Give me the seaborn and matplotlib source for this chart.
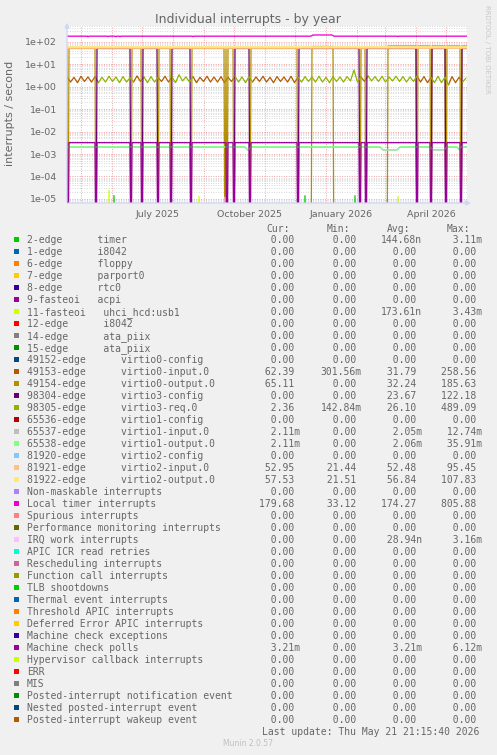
import numpy as np
import pandas as pd
import matplotlib
matplotlib.use("Agg")
import matplotlib.pyplot as plt
from matplotlib.patches import Rectangle
from matplotlib.ticker import FixedLocator, LogLocator, FuncFormatter, NullFormatter
import seaborn as sns

sns.set_style("white")
plt.rcParams['font.family'] = ['DejaVu Sans']

W, H = 497, 755
BACK = "#F0F0F0"
FONT = "#666666"
AXIS = "#CFD6F8"

# ---- time range (munin "by year" = 400 days up to last update)
t_end = pd.Timestamp("2026-05-21 21:15")
t0 = t_end - pd.Timedelta(days=400)

# ---- legend / table data
labels = [
    "2-edge      timer", "1-edge      i8042", "6-edge      floppy", "7-edge      parport0",
    "8-edge      rtc0", "9-fasteoi   acpi", "11-fasteoi   uhci_hcd:usb1", "12-edge      i8042",
    "14-edge      ata_piix", "15-edge      ata_piix",
    "49152-edge      virtio0-config", "49153-edge      virtio0-input.0",
    "49154-edge      virtio0-output.0", "98304-edge      virtio3-config",
    "98305-edge      virtio3-req.0", "65536-edge      virtio1-config",
    "65537-edge      virtio1-input.0", "65538-edge      virtio1-output.0",
    "81920-edge      virtio2-config", "81921-edge      virtio2-input.0",
    "81922-edge      virtio2-output.0",
    "Non-maskable interrupts", "Local timer interrupts", "Spurious interrupts",
    "Performance monitoring interrupts", "IRQ work interrupts", "APIC ICR read retries",
    "Rescheduling interrupts", "Function call interrupts", "TLB shootdowns",
    "Thermal event interrupts", "Threshold APIC interrupts", "Deferred Error APIC interrupts",
    "Machine check exceptions", "Machine check polls", "Hypervisor callback interrupts",
    "ERR", "MIS", "Posted-interrupt notification event", "Nested posted-interrupt event",
    "Posted-interrupt wakeup event",
]
keys = ["timer", "i8042a", "floppy", "parport0", "rtc0", "acpi", "usb1", "i8042b",
        "ata1", "ata2", "v0cfg", "v0in", "v0out", "v3cfg", "v3req", "v1cfg", "v1in",
        "v1out", "v2cfg", "v2in", "v2out", "NMI", "LOC", "SPU", "PMI", "IWI", "RTR",
        "RES", "CAL", "TLB", "TRM", "THR", "DFR", "MCE", "MCP", "HYP", "ERR", "MIS",
        "PIN", "NPI", "PIW"]
colors = ["#00CC00", "#0066B3", "#FF8000", "#FFCC00", "#330099", "#990099", "#CCFF00",
          "#FF0000", "#808080", "#008F00", "#00487D", "#B35A00", "#B38F00", "#6B006B",
          "#8FB300", "#B30000", "#BEBEBE", "#80FF80", "#80C9FF", "#FFC080", "#FFE680",
          "#AA80FF", "#EE00CC", "#FF8080", "#666600", "#FFBFFF", "#00FFCC", "#CC6699",
          "#999900", "#00CC00", "#0066B3", "#FF8000", "#FFCC00", "#330099", "#990099",
          "#CCFF00", "#FF0000", "#808080", "#008F00", "#00487D", "#B35A00"]
z = "0.00"
cur = [z]*11 + ["62.39", "65.11", z, "2.36", z, "2.11m", "2.11m", z, "52.95", "57.53",
                z, "179.68", z, z, z, z, z, z, z, z, z, z, z, "3.21m", z, z, z, z, z, z]
mins = [z]*11 + ["301.56m", z, z, "142.84m", z, z, z, z, "21.44", "21.51",
                 z, "33.12", z, z, z, z, z, z, z, z, z, z, z, z, z, z, z, z, z, z]
avgs = ["144.68n", z, z, z, z, z, "173.61n", z, z, z, z, "31.79", "32.24", "23.67",
        "26.10", z, "2.05m", "2.06m", z, "52.48", "56.84", z, "174.27", z, z, "28.94n",
        z, z, z, z, z, z, z, z, "3.21m", z, z, z, z, z, z]
maxs = ["3.11m", z, z, z, z, z, "3.43m", z, z, z, z, "258.56", "185.63", "122.18",
        "489.09", z, "12.74m", "35.91m", z, "95.45", "107.83", z, "805.88", z, z, "3.16m",
        z, z, z, z, z, z, z, z, "6.12m", z, z, z, z, z, z]

# ---- plotted data (days after start of the graph)
reboot_days = [1, 29, 64, 75, 91, 104, 124, 160, 167, 183, 231, 293, 299,
               350, 364, 379, 394]
# which virtio disk pair is active before the first reboot and after each one
active = ["v0", "v0", "v3", "v0", "v3", "v0", "v3", "v0", "v0", "v3", "v0",
          "v3", "v0", "v3", "v0", "v3", "v0", "v3"]
out_level = 50.0
out0_high = [(245, 266, 61.0), (321, 400, 64.0)]
out0_dips = [158]
mcp_level = 3.21e-3

# request-rate sawtooth, one value every half week
wave = [2.8, 1.6, 2.6, 1.5, 2.9, 1.7, 2.7, 1.6, 2.8, 1.5, 2.6, 1.6, 2.9, 1.7, 2.7, 1.5,
        2.8, 1.6, 2.5, 1.6, 3.0, 1.7, 2.7, 1.5, 2.8, 1.6, 2.6, 1.7, 2.9, 1.6, 2.7, 1.5,
        3.4, 1.8, 2.7, 1.6, 2.8, 1.5, 2.6, 1.7, 2.9, 1.6, 2.7, 1.6, 2.8, 1.5, 2.6, 1.7,
        2.9, 1.6, 2.7, 1.5, 2.8, 1.6, 2.7, 1.7, 2.9, 1.6, 2.6, 1.5, 2.8, 1.7, 2.7, 1.6,
        2.9, 1.5, 2.6, 1.6, 2.8, 1.7, 2.7, 1.6, 2.9, 1.6, 2.6, 1.5, 2.8, 1.7, 2.7, 1.6,
        2.8, 1.8, 5.5, 1.6, 2.7, 1.7, 3.0, 1.8, 2.8, 1.7, 2.9, 1.6, 2.7, 1.8, 2.9, 1.7,
        2.8, 1.6, 2.7, 1.7, 3.0, 1.6, 2.8, 1.5, 2.6, 1.5, 2.9, 1.5, 2.7, 1.2, 2.8, 1.5,
        2.6, 1.6, 2.4]

loc_days = [0, 20, 21, 22, 40, 41, 42, 48, 49, 50, 52, 53, 54, 125, 126, 127, 244, 246,
            265, 267, 330, 331, 332, 400]
loc_vals = [176, 176, 166, 176, 176, 168, 176, 176, 167, 176, 176, 168, 176, 176, 168,
            176, 176, 200, 200, 176, 176, 170, 176, 176]

v2in_days, v2in_vals = [0, 400], [52.0, 52.0]
v2out_days, v2out_vals = [0, 400], [56.0, 56.0]

v1_days = [0, 178, 181, 184, 313, 316, 330, 333, 363, 366, 377, 380, 390, 392, 394, 400]
v1_vals = [2.1e-3, 2.1e-3, 1.5e-3, 2.1e-3, 2.1e-3, 1.55e-3, 1.55e-3, 2.1e-3, 2.1e-3,
           1.55e-3, 1.55e-3, 2.1e-3, 2.1e-3, 1.6e-3, 2.1e-3, 2.1e-3]

usb1_spikes = [(42, 2.4e-5), (75, 1.1e-5), (132, 1.3e-5), (331, 1.3e-5)]
timer_spikes = [(47, 1.4e-5), (124, 1.2e-5), (238, 1.4e-5), (288, 1.4e-5)]
iwi_spikes = [(158, 1.2e-5)]

FLOOR = 1e-9

# ---- assemble long frame
days = np.arange(0, 401)
dev = np.array(active)[np.searchsorted(reboot_days, days, side="right")]
is_reboot = np.isin(days, reboot_days)
out0 = np.where(dev == "v0", out_level, 0.0)
for a, b, v in out0_high:
    out0[(days >= a) & (days <= b)] = v
out0[is_reboot | np.isin(days, out0_dips)] = 0.0
cfg3 = np.where(dev == "v3", out_level, 0.0)
cfg3[is_reboot] = 0.0
mcp = np.where(is_reboot, 0.0, mcp_level)

wave_days = np.arange(len(wave)) * 3.5
wave_dev = np.array(active)[np.searchsorted(reboot_days, wave_days, side="right")]

frames = []


def add(key, d, v, unit=None):
    frames.append(pd.DataFrame({
        "time": t0 + pd.to_timedelta(np.asarray(d, float), unit="D"),
        "value": np.asarray(v, float), "series": key,
        "unit": unit or key}))


def add_runs(key, which):
    mask = wave_dev == which
    mask = mask | np.concatenate([[False], mask[:-1]])
    run = 0
    idx = []
    for i, m in enumerate(mask):
        if m:
            idx.append(i)
        elif idx:
            add(key, wave_days[idx], np.array(wave)[idx], f"{key}{run}")
            run += 1
            idx = []
    if idx:
        add(key, wave_days[idx], np.array(wave)[idx], f"{key}{run}")


def add_spikes(key, spikes):
    d, v = [], []
    for day, val in spikes:
        d += [day - 1, day, day + 1]
        v += [0.0, val, 0.0]
    add(key, d, v)


add_spikes("timer", timer_spikes)
add_spikes("usb1", usb1_spikes)
add_runs("v0in", "v0")
add("v0out", days, out0)
add("v3cfg", days, cfg3)
add_runs("v3req", "v3")
add("v1in", v1_days, [x * 0.97 for x in v1_vals])
add("v1out", v1_days, v1_vals)
add("v2in", v2in_days, v2in_vals)
add("v2out", v2out_days, v2out_vals)
add("LOC", loc_days, loc_vals)
add_spikes("IWI", iwi_spikes)
add("MCP", days, mcp)

df = pd.concat(frames, ignore_index=True)
df.loc[df["value"] <= 0, "value"] = FLOOR
palette = dict(zip(keys, colors))
order = [k for k in keys if k in set(df["series"])]

# ---- figure
fig = plt.figure(figsize=(W / 100, H / 100), dpi=100, facecolor=BACK)
ax = fig.add_axes([67 / W, 1 - 203 / H, 400 / W, 177 / H])
ax.set_facecolor("white")

sns.lineplot(data=df, x="time", y="value", hue="series", units="unit",
             estimator=None, palette=palette, hue_order=order, legend=False,
             linewidth=0.9, ax=ax)
# the two virtio2 queues sit on top of each other and read as a thicker band
for line in ax.get_lines():
    if line.get_color() in ("#FFC080", "#FFE680"):
        line.set_linewidth(1.3)

ax.set_yscale("log")
ax.set_ylim(10 ** -5.18, 10 ** 2.7)
ax.set_xlim(t0, t_end)
ax.set_xlabel("")
ax.set_ylabel("")

ax.yaxis.set_major_locator(LogLocator(base=10, numticks=20))
ax.yaxis.set_minor_locator(LogLocator(base=10, subs=np.arange(2, 10), numticks=20))
ax.yaxis.set_major_formatter(FuncFormatter(lambda v, p: f"{v:.0e}"))
ax.yaxis.set_minor_formatter(NullFormatter())

month_starts = pd.date_range("2025-05-01", "2026-05-01", freq="MS")
label_dates = pd.to_datetime(["2025-07-16", "2025-10-16", "2026-01-16", "2026-04-16"])
ax.xaxis.set_major_locator(FixedLocator(matplotlib.dates.date2num(month_starts)))
ax.xaxis.set_major_formatter(NullFormatter())
ax.xaxis.set_minor_locator(FixedLocator(matplotlib.dates.date2num(label_dates)))
ax.xaxis.set_minor_formatter(FuncFormatter(
    lambda v, p: ["July 2025", "October 2025", "January 2026", "April 2026"][p]))

dot = (0, (1, 1.5))
ax.grid(which="minor", axis="y", color="#D8D8D8", linestyle=dot, linewidth=0.7)
ax.grid(which="major", axis="y", color="#F2A0A0", linestyle=dot, linewidth=0.7)
ax.grid(which="major", axis="x", color="#F2A0A0", linestyle=dot, linewidth=0.7)
ax.grid(which="minor", axis="x", visible=False)

ax.tick_params(axis="y", which="both", length=0, labelsize=6.8, labelcolor=FONT, pad=7)
ax.tick_params(axis="x", which="major", length=2, color="#F2A0A0", direction="out")
ax.tick_params(axis="x", which="minor", length=0, labelsize=6.8, labelcolor=FONT, pad=5)
for s in ax.spines.values():
    s.set_visible(False)

ax.annotate("", xy=(1.017, 0), xytext=(-0.005, 0), xycoords="axes fraction",
            arrowprops=dict(arrowstyle="-|>", color=AXIS, lw=0.9, mutation_scale=7),
            annotation_clip=False)
ax.annotate("", xy=(0, 1.034), xytext=(0, -0.01), xycoords="axes fraction",
            arrowprops=dict(arrowstyle="-|>", color=AXIS, lw=0.9, mutation_scale=7),
            annotation_clip=False)


def px(x, y):
    return x / W, 1 - y / H


fig.text(*px(248, 19.5), "Individual interrupts - by year", ha="center", va="center",
         fontsize=9, color=FONT)
fig.text(*px(10, 113), "interrupts / second", ha="center", va="center", rotation=90,
         fontsize=8, color=FONT)
fig.text(*px(487, 5), "RRDTOOL / TOBI OETIKER", ha="center", va="top", rotation=270,
         fontsize=5, color="#C8C8C8")

mono = dict(family="DejaVu Sans Mono", fontsize=7, color=FONT, va="baseline")
col_x = [259.3, 320.7, 380.7, 440.7]
for hx, h in zip([266.7, 327, 387, 447], ["Cur:", "Min:", "Avg:", "Max:"]):
    fig.text(*px(hx, 231.5), h, **mono)


def field(s):
    if s[-1].isalpha():
        return f"{s[:-1]:>6}{s[-1]}"
    return f"{s:>6} "


for i, lab in enumerate(labels):
    yc = 239.7 + 12 * i
    fig.patches.append(Rectangle(px(14, yc + 2.7), 5.4 / W, 5.4 / H,
                                 transform=fig.transFigure, color=colors[i], lw=0))
    fig.text(*px(26.7, yc + 3.5), lab, **mono)
    for cx, vals in zip(col_x, [cur, mins, avgs, maxs]):
        fig.text(*px(cx, yc + 3.5), field(vals[i]), **mono)

fig.text(*px(261.7, 735), "Last update: Thu May 21 21:15:40 2026", **mono)
fig.text(*px(248, 744), "Munin 2.0.57", ha="center", va="center", fontsize=5.5,
         color="#C0C0C0")

fig.savefig("out.png", dpi=100, facecolor=BACK)
